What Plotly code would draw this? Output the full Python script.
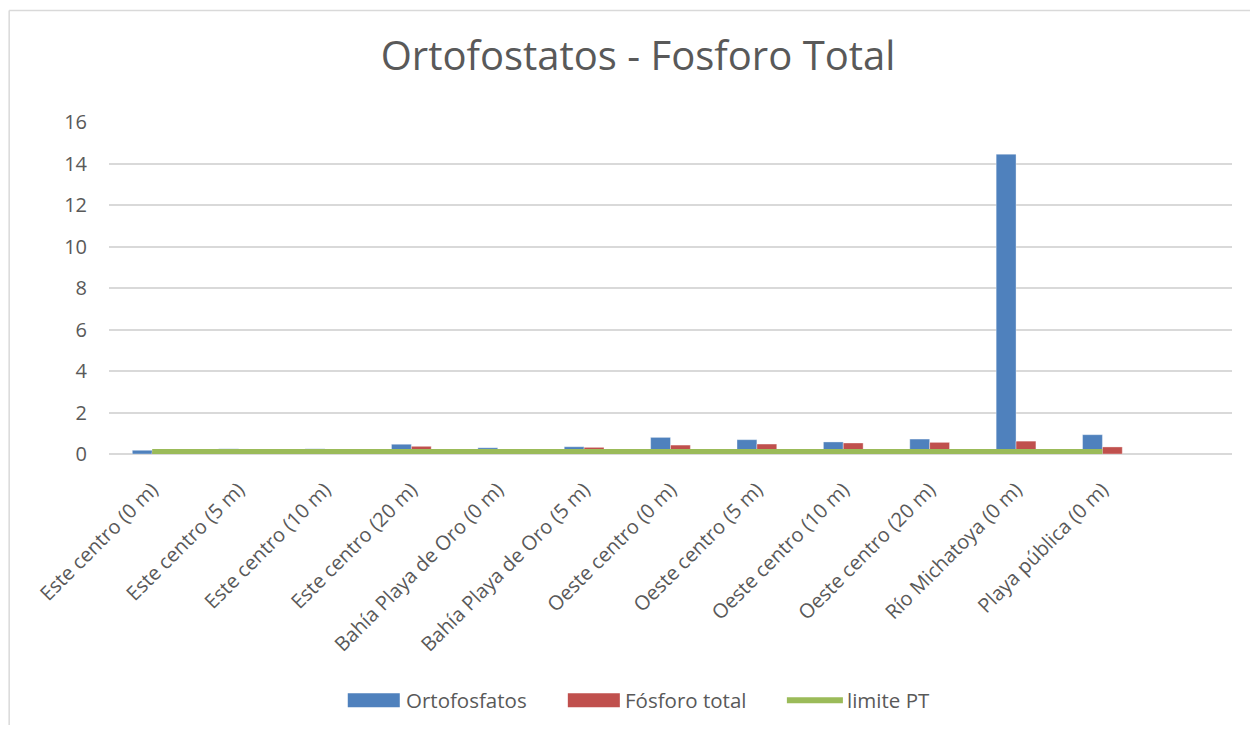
import plotly.graph_objects as go

categories = ["Este centro (0 m)", "Este centro (5 m)", "Este centro (10 m)", "Este centro (20 m)",
              "Bahía Playa de Oro (0 m)", "Bahía Playa de Oro (5 m)", "Oeste centro (0 m)",
              "Oeste centro (5 m)", "Oeste centro (10 m)", "Oeste centro (20 m)",
              "Río Michatoya (0 m)", "Playa pública (0 m)"]
ortofosfatos = [0.18, 0.25, 0.25, 0.47, 0.30, 0.35, 0.80, 0.69, 0.58, 0.72, 14.45, 0.93]
fosforo_total = [0.10, 0.12, 0.12, 0.37, 0.12, 0.32, 0.43, 0.48, 0.53, 0.56, 0.62, 0.34]
limite_pt = [0.10, 0.10, 0.10, 0.10, 0.10, 0.10, 0.10, 0.10, 0.10, 0.10, 0.10, 0.10]
y_ticks = [0, 2, 4, 6, 8, 10, 12, 14, 16]

# page body has an 8px margin; work in reference-screen pixels and convert
OFF = 8
W, H = 1258 - 2 * OFF, 733 - 2 * OFF
PL, PR, PT, PB = 109.3, 1232, 121.7, 454.3   # plot area in screen pixels
L = PL - OFF
T = PT - OFF
PW = PR - PL
PH = PB - PT
R = W - L - PW
B = H - T - PH

def px(x):
    return (x - PL) / PW

def py(y):
    return (PB - y) / PH

BLUE, RED, GREEN = "#4F81BD", "#C0504D", "#9BBB59"
TXT = "#595959"
FONT = "Open Sans"

fig = go.Figure()
fig.add_trace(go.Bar(x=categories, y=ortofosfatos, name="Ortofosfatos",
                     marker=dict(color=BLUE, line=dict(width=0.6, color="rgba(255,255,255,0.6)"))))
fig.add_trace(go.Bar(x=categories, y=fosforo_total, name="Fósforo total",
                     marker=dict(color=RED, line=dict(width=0.6, color="rgba(255,255,255,0.6)"))))
fig.add_trace(go.Scatter(x=categories, y=limite_pt, name="limite PT", mode="lines",
                         line=dict(color=GREEN, width=6)))

fig.update_layout(
    width=W, height=H,
    margin=dict(l=L, r=R, t=T, b=B, autoexpand=False),
    paper_bgcolor="white", plot_bgcolor="white",
    barmode="group", bargap=0.54, bargroupgap=0,
    showlegend=False,
    font=dict(family=FONT, color=TXT, size=20),
    title=dict(text="Ortofostatos - Fosforo Total", x=(638 - OFF) / W, xanchor="center",
               y=1 - (56 - OFF) / H, yanchor="middle",
               font=dict(family=FONT, size=40, color=TXT)),
)
fig.update_xaxes(type="category", range=[-0.5, 12.5], tickangle=-45,
                 tickfont=dict(family=FONT, size=20, color=TXT),
                 showgrid=False, showline=False, ticks="", ticklabelstandoff=19)
fig.update_yaxes(range=[0, 16], tickvals=y_ticks, showgrid=True, gridcolor="#D9D9D9",
                 gridwidth=1.5, zeroline=True, zerolinecolor="#D9D9D9", zerolinewidth=1.5,
                 tickfont=dict(family=FONT, size=20, color=TXT), ticks="",
                 ticklabelstandoff=21, showline=False)

# chart border (left and top edges only are in view)
fig.add_shape(type="line", xref="paper", yref="paper", x0=px(9.5), x1=px(9.5), y0=py(10), y1=py(740),
              line=dict(color="#D9D9D9", width=1.5), layer="below")
fig.add_shape(type="line", xref="paper", yref="paper", x0=px(9.5), x1=px(1270), y0=py(10), y1=py(10),
              line=dict(color="#D9D9D9", width=1.5), layer="below")

# manual legend
leg_y = 701
items = [("rect", BLUE, 348, 400, 404, "Ortofosfatos"),
         ("rect", RED, 568, 620, 623, "Fósforo total"),
         ("line", GREEN, 787, 843, 845, "limite PT")]
for kind, col, x0, x1, tx, label in items:
    if kind == "rect":
        fig.add_shape(type="rect", xref="paper", yref="paper", x0=px(x0), x1=px(x1),
                      y0=py(leg_y + 7), y1=py(leg_y - 7), fillcolor=col, line=dict(width=0))
    else:
        fig.add_shape(type="line", xref="paper", yref="paper", x0=px(x0), x1=px(x1),
                      y0=py(leg_y), y1=py(leg_y), line=dict(color=col, width=6))
    fig.add_annotation(text=label, xref="paper", yref="paper", x=px(tx), y=py(leg_y),
                       xanchor="left", yanchor="middle", showarrow=False,
                       font=dict(family=FONT, size=20.5, color=TXT))

fig.write_html("out.html")
